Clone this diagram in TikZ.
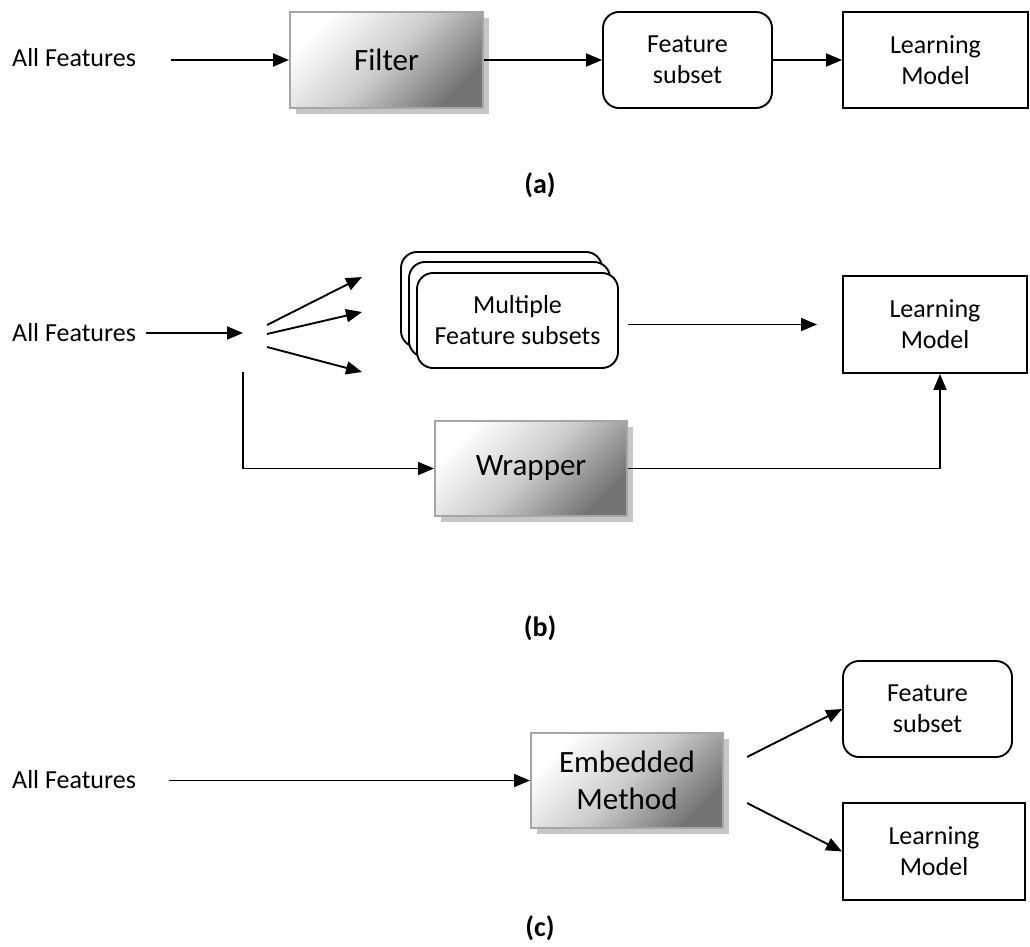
\documentclass[tikz,border=0pt]{standalone}
\usepackage{fontspec}
\setmainfont{Carlito}
\usepackage{tikz}
\usetikzlibrary{arrows.meta,shadows}

\begin{document}
\begin{tikzpicture}[
        x=1pt,
        y=-1pt,
        arr/.style={-{Triangle[length=16pt,width=13pt]}, line width=1.9pt},
        plainbox/.style={draw, line width=1.9pt, align=center, inner sep=0pt},
        roundbox/.style={plainbox, rounded corners=16pt, fill=white},
        methodbox/.style={draw=gray!70, line width=2pt, align=center, inner sep=0pt,
          top color=white, bottom color=black!55, middle color=black!20, shading angle=45,
          drop shadow={shadow xshift=6pt, shadow yshift=-6pt, fill=gray!45, opacity=1},
          font=\fontsize{31}{37}\selectfont},
        inlabel/.style={anchor=west, inner sep=0pt},
        caplabel/.style={font=\fontsize{28}{34}\selectfont\bfseries},
        every node/.style={font=\fontsize{26}{31}\selectfont}
      ]
        \useasboundingbox (0,0) rectangle (1030,947);

        % (a) filter
        \node[inlabel] (alla) at (12,58) {All Features};
        \node[methodbox, minimum width=193pt, minimum height=96pt] (filter) at (386.5,60) {Filter};
        \node[roundbox, minimum width=169pt, minimum height=96pt] (fsa) at (687.5,60) {Feature\\subset};
        \node[plainbox, minimum width=185pt, minimum height=96pt] (lma) at (935.5,60) {Learning\\Model};
        \node[caplabel] (capa) at (540,185) {(a)};

        \draw[arr, shorten <=35pt] (alla.east |- filter.west) -- (filter.west);
        \draw[arr] (filter.east) -- (fsa.west);
        \draw[arr] (fsa.east) -- (lma.west);

        % (b) wrapper
        \node[inlabel] (allb) at (12,333) {All Features};
        \coordinate (split) at (243,333);
        \node[roundbox, minimum width=201pt, minimum height=95pt] (mfsback) at (501.5,299.5) {};
        \node[roundbox, minimum width=201pt, minimum height=95pt] (mfsmid) at (509.5,309.5) {};
        \node[roundbox, minimum width=201pt, minimum height=95pt] (mfs) at (517.5,320.5) {Multiple\\Feature subsets};
        \node[plainbox, minimum width=184pt, minimum height=97pt] (lmb) at (935,324.5) {Learning\\Model};
        \node[methodbox, minimum width=192pt, minimum height=95pt] (wrap) at (531,468.5) {Wrapper};
        \node[caplabel] (capb) at (540,628) {(b)};

        \coordinate (fan1s) at (267,325);
        \coordinate (fan1e) at (362,277);
        \coordinate (fan2s) at (267,334);
        \coordinate (fan2e) at (362,312);
        \coordinate (fan3s) at (267,347);
        \coordinate (fan3e) at (362,372);
        \coordinate (drop) at (243,372);

        \draw[arr, shorten <=10pt] (allb.east) -- (split);
        \foreach \f in {fan1,fan2,fan3} {
          \draw[arr] (\f s) -- (\f e);
        }
        \draw[arr] (drop) |- (wrap.west);
        \draw[arr, shorten <=9pt, shorten >=25pt] (mfs.east |- lmb.west) -- (lmb.west);
        \draw[arr] (wrap.east) -| ([xshift=5pt]lmb.south);

        % (c) embedded
        \node[inlabel] (allc) at (12,780) {All Features};
        \node[methodbox, minimum width=192pt, minimum height=95pt] (emb) at (627,780.5) {Embedded\\Method};
        \node[roundbox, minimum width=169pt, minimum height=96pt] (fsc) at (927.5,709) {Feature\\subset};
        \node[plainbox, minimum width=182pt, minimum height=97pt] (lmc) at (934,851.5) {Learning\\Model};
        \node[caplabel] (capc) at (540,928) {(c)};

        \coordinate (emb1) at (747,757);
        \coordinate (emb2) at (747,803);

        \draw[arr, shorten <=33pt] (allc.east |- emb.west) -- (emb.west);
        \draw[arr] (emb1) -- (fsc.west);
        \draw[arr] (emb2) -- (lmc.west);
      \end{tikzpicture}
\end{document}
